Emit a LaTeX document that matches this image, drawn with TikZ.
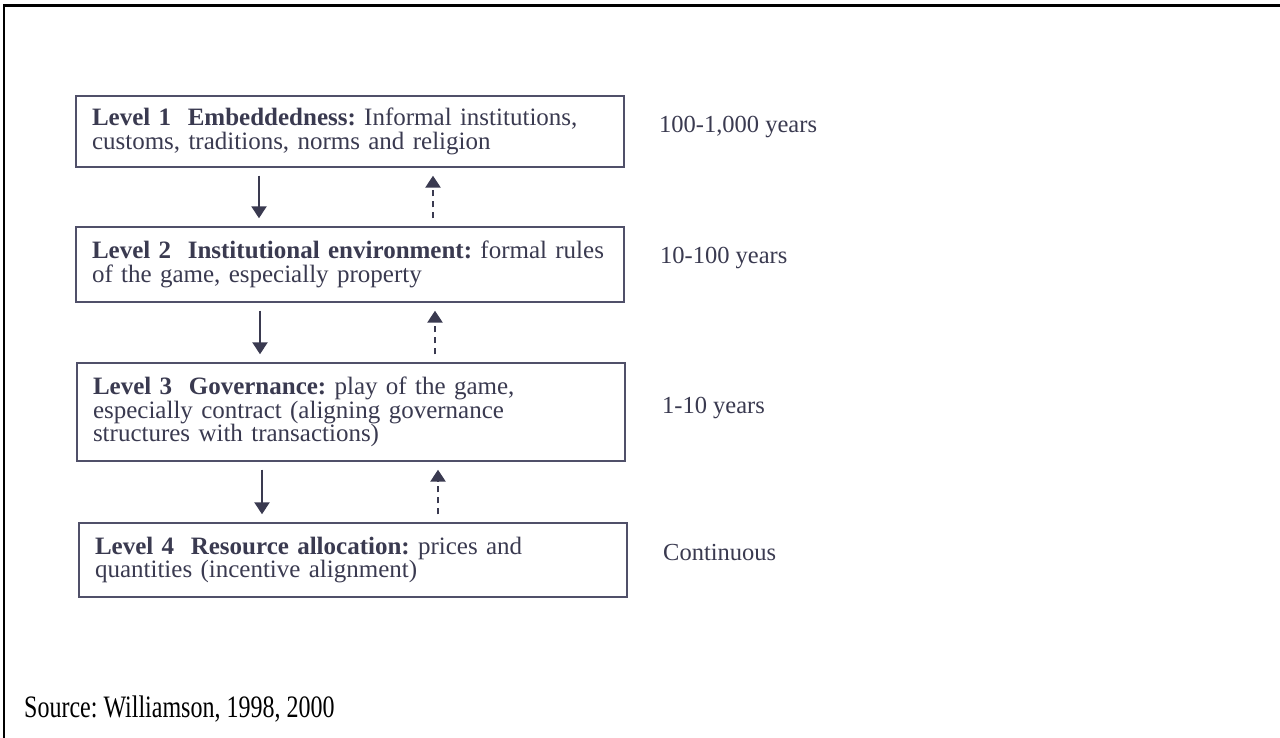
\documentclass[tikz,border=0pt]{standalone}
\usepackage{fontspec}
\setmainfont{Liberation Serif}
\usetikzlibrary{arrows.meta}
\frenchspacing
\definecolor{ink}{RGB}{58,58,80}
\definecolor{boxline}{RGB}{80,80,105}
\tikzset{
  levelbox/.style={draw=boxline, line width=1.4pt, minimum width=548, text width=516,
    inner xsep=16, inner ysep=0, align=left, text=ink, font=\fontsize{25}{23.5}\selectfont\frenchspacing},
  timelabel/.style={anchor=west, inner sep=0, text=ink, font=\fontsize{24.5}{23.5}\selectfont},
  downarrow/.style={draw=ink, line width=2.2pt, -{Triangle[length=12pt,width=15pt]}, shorten <=8, shorten >=8},
  uparrow/.style={draw=ink, line width=2.6pt, dash pattern=on 6pt off 5pt, -{Triangle[length=12pt,width=15pt]}, shorten <=8, shorten >=8},
}
\begin{document}
\begin{tikzpicture}[x=1pt,y=-1pt]
\useasboundingbox (0,0) rectangle (1280,738);
\fill[white] (0,0) rectangle (1280,738);
% frame
\draw[line width=2.2pt, black] (4,738) -- (4,5.5) -- (1280,5.5);

\node[levelbox, minimum height=71] (b1) at (350,131.5)
  {\mbox{\textbf{Level 1\ \ Embeddedness:} Informal institutions,}\\ \mbox{customs, traditions, norms and religion}};
\node[levelbox, minimum height=75] (b2) at (350,264.5)
  {\mbox{\textbf{Level 2\ \ Institutional environment:} formal rules}\\ \mbox{of the game, especially property}};
\node[levelbox, minimum height=98] (b3) at (351,412)
  {\mbox{\textbf{Level 3\ \ Governance:} play of the game,}\\ \mbox{especially contract (aligning governance}\\ \mbox{structures with transactions)}};
\node[levelbox, minimum height=74] (b4) at (353,560)
  {\mbox{\textbf{Level 4\ \ Resource allocation:} prices and}\\ \mbox{quantities (incentive alignment)}};

\node[timelabel] (t1) at (659,127) {100-1,000 years};
\node[timelabel] (t2) at (660,258) {10-100 years};
\node[timelabel] (t3) at (662,408) {1-10 years};
\node[timelabel] (t4) at (663,553) {Continuous};

\coordinate (s1) at (259,0);
\coordinate (d1) at (433,0);
\coordinate (s2) at (260,0);
\coordinate (d2) at (435,0);
\coordinate (s3) at (262,0);
\coordinate (d3) at (438,0);

\draw[downarrow] (b1.south -| s1) -- (b2.north -| s1);
\draw[uparrow] (b2.north -| d1) -- (b1.south -| d1);
\draw[downarrow] (b2.south -| s2) -- (b3.north -| s2);
\draw[uparrow] (b3.north -| d2) -- (b2.south -| d2);
\draw[downarrow] (b3.south -| s3) -- (b4.north -| s3);
\draw[uparrow] (b4.north -| d3) -- (b3.south -| d3);

\node[anchor=base west, inner sep=0, text=black] (src) at (24,717)
  {\scalebox{1}[1.3]{\fontsize{24}{28}\selectfont Source: Williamson, 1998, 2000}};
\end{tikzpicture}
\end{document}
